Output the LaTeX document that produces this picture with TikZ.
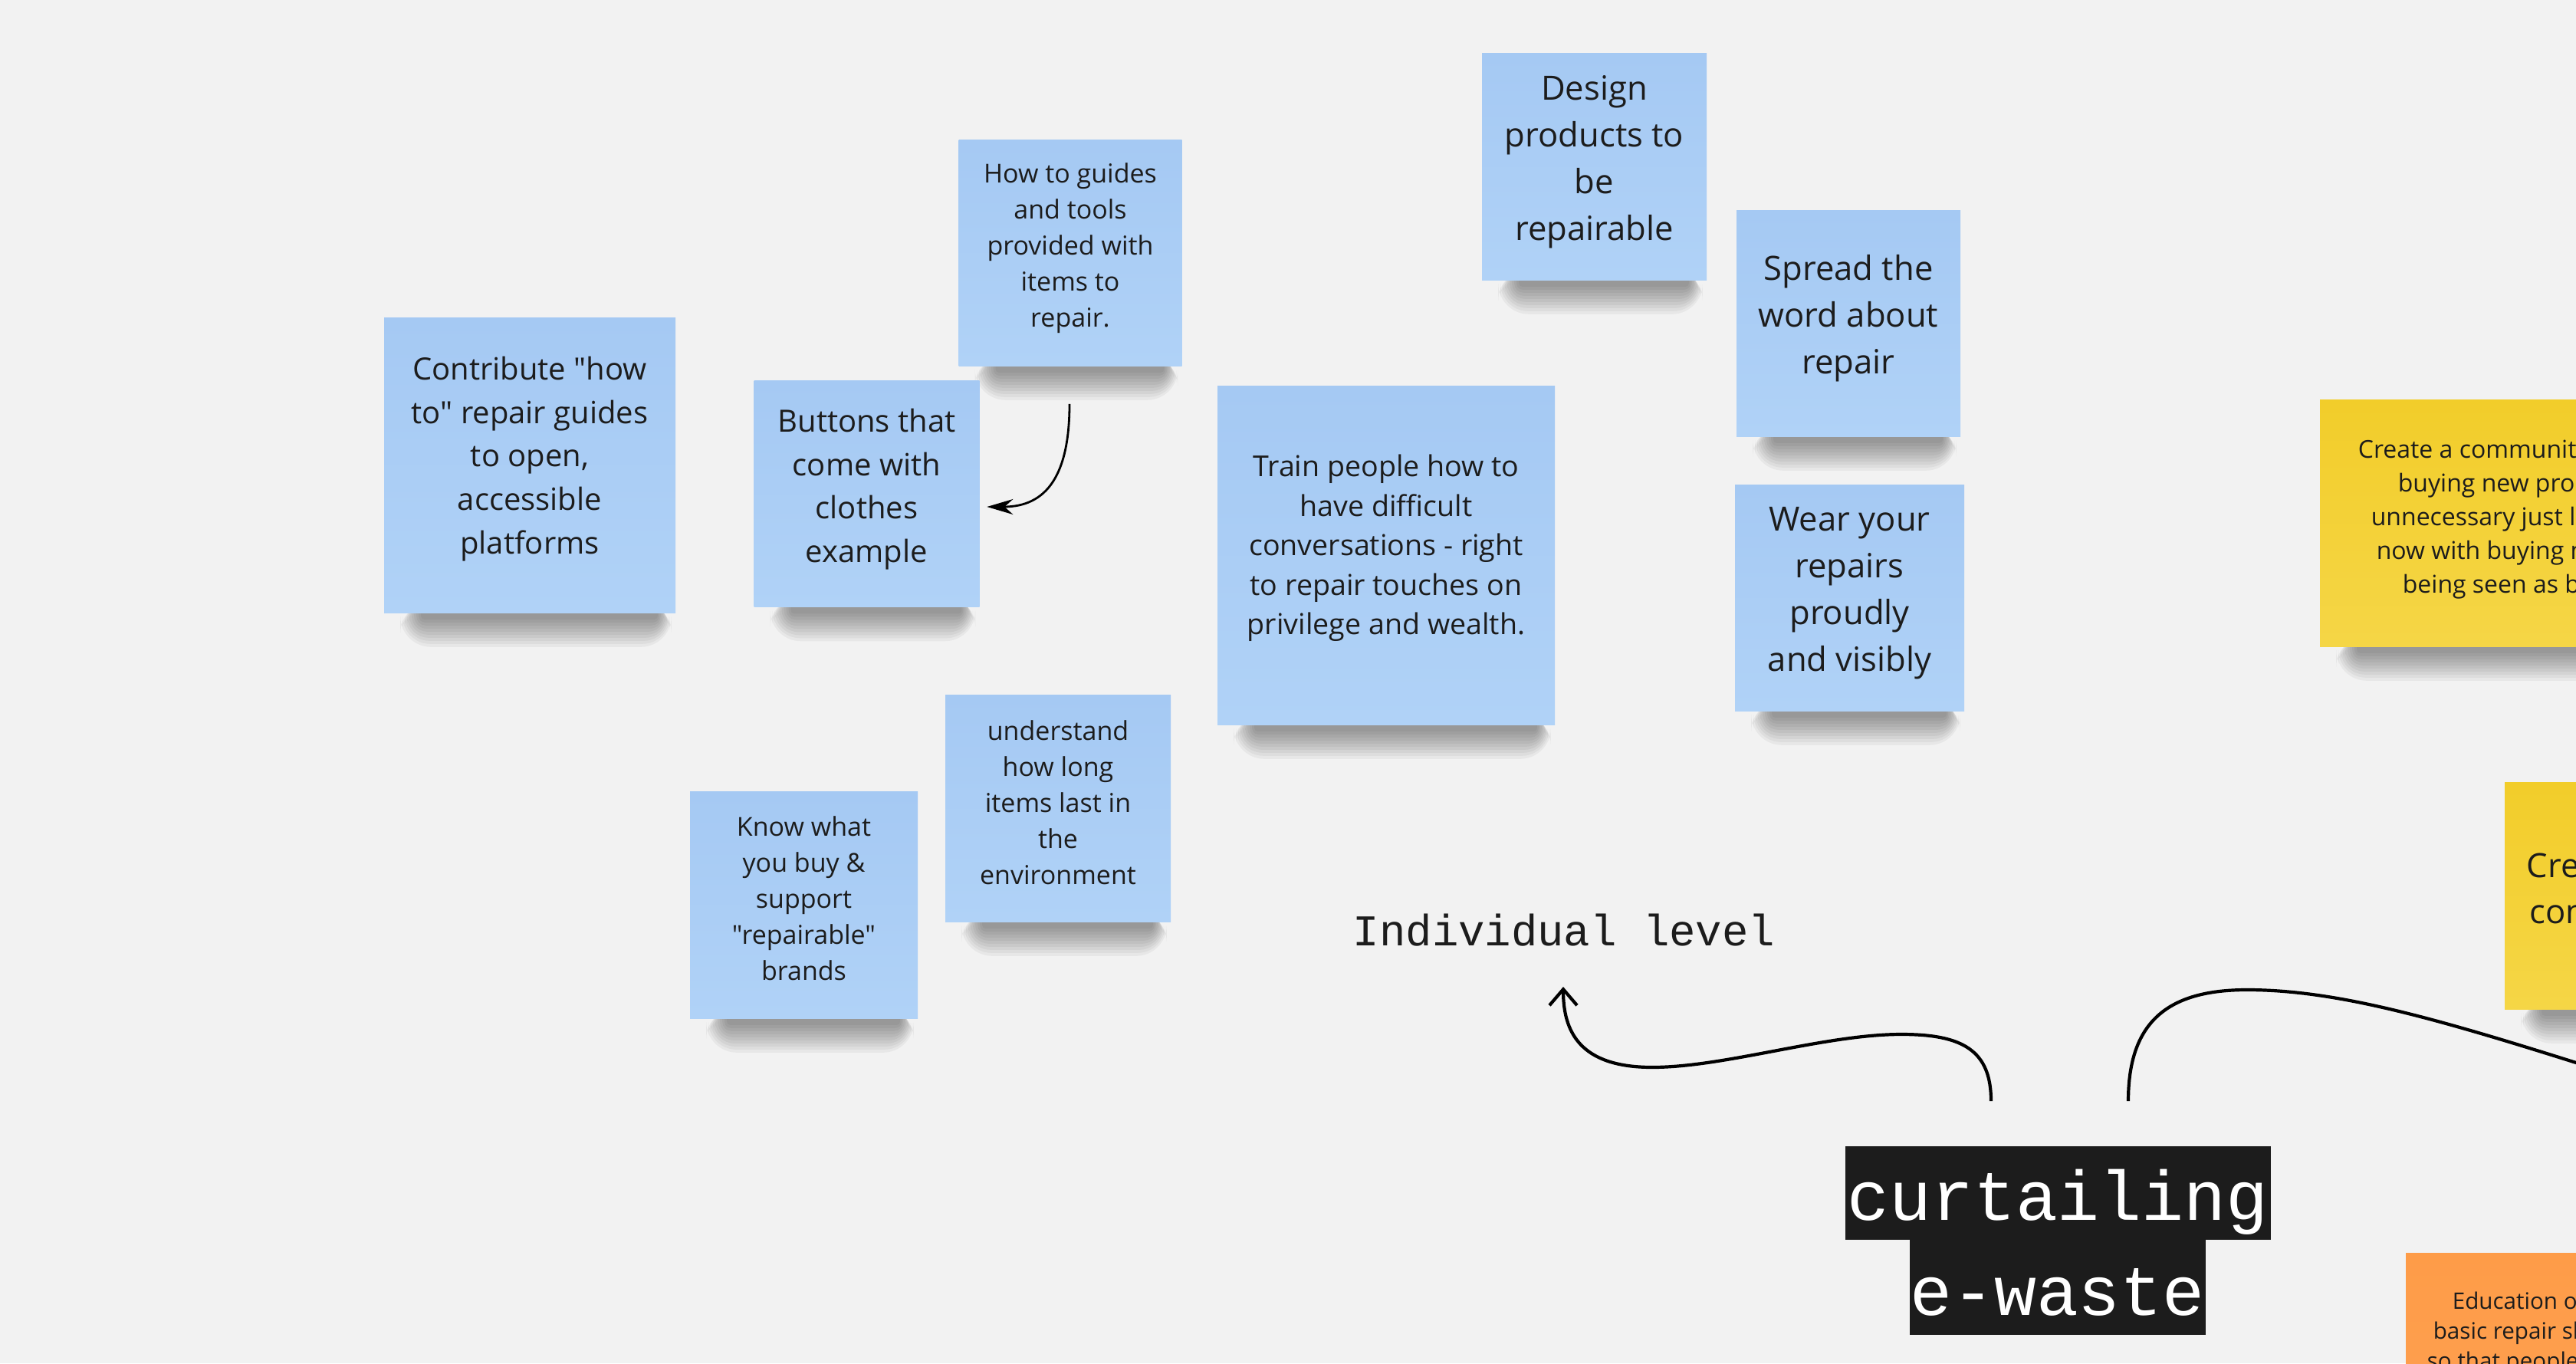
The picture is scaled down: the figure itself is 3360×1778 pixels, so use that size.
\documentclass[tikz,border=0pt]{standalone}
\usepackage{fontspec}
\setmainfont{Open Sans}[Ligatures=TeXOff]
\newfontfamily\monofont{Liberation Mono}
\usetikzlibrary{arrows.meta,calc,backgrounds}
\definecolor{bgc}{HTML}{F2F2F2}
\definecolor{bluetop}{HTML}{A5C9F3}
\definecolor{bluebot}{HTML}{B0D2F7}
\definecolor{yeltop}{HTML}{F2CD2A}
\definecolor{yelbot}{HTML}{F5D646}
\definecolor{orngtop}{HTML}{FE9C48}
\definecolor{orngbot}{HTML}{FEA152}
\definecolor{ink}{HTML}{1C1C1C}
\pgfdeclarelayer{shadowlayer}
\pgfsetlayers{background,shadowlayer,main}
\tikzset{
  bluesticky/.style={inner sep=0pt, draw=none, top color=bluetop, bottom color=bluebot},
  yelsticky/.style={inner sep=0pt, draw=none, top color=yeltop, bottom color=yelbot},
  orgsticky/.style={inner sep=0pt, draw=none, top color=orngtop, bottom color=orngbot},
  txtA/.style={inner sep=0pt, align=center, text=ink, font=\fontsize{10pt}{14.15pt}\selectfont},
  txtB/.style={inner sep=0pt, align=center, text=ink, font=\fontsize{8.5pt}{11.75pt}\selectfont},
  txtC/.style={inner sep=0pt, align=center, text=ink, font=\fontsize{10.9pt}{15.25pt}\selectfont},
  txtD/.style={inner sep=0pt, align=center, text=ink, font=\fontsize{9.4pt}{12.85pt}\selectfont},
  edgetxt/.style={inner sep=0pt, anchor=base west, align=left, text=ink},
  titlebox/.style={inner sep=0pt, fill=ink, text=white, font=\monofont\fontsize{22.9pt}{30pt}\selectfont},
  conn/.style={draw=black, line width=1.05pt},
  smallarrow/.style={draw=black, line width=0.7pt, -{Stealth[length=8.5pt,width=5pt]}}
}
\newcommand\stickyshadow[1]{%
  \begin{pgfonlayer}{shadowlayer}
    \foreach \i in {1,...,10}{
      \fill[black, opacity=0.045, rounded corners=\i pt]
        ($(#1.south west)+({52-3*\i},-14)$) rectangle ($(#1.south east)+({-26+2*\i},{4+4*\i})$);
    }
  \end{pgfonlayer}}
\begin{document}
\begin{tikzpicture}[x=0.25pt,y=-0.25pt]
\useasboundingbox (0,0) rectangle (3360,1778);
\begin{pgfonlayer}{background}
  \fill[bgc] (0,0) rectangle (3360,1778);
\end{pgfonlayer}

% blue stickies
\node[bluesticky, minimum width=95pt, minimum height=96.25pt] (contrib) at (691,606.5) {};
\node[txtA] (contribT) at ([yshift=2pt]contrib.center) {Contribute "how\\to" repair guides\\to open,\\accessible\\platforms};

\node[bluesticky, minimum width=72.75pt, minimum height=73.75pt] (howto) at (1396,329.5) {};
\node[txtB] (howtoT) at ([yshift=1.5pt]howto.center) {How to guides\\and tools\\provided with\\items to\\repair.};

\node[bluesticky, minimum width=73.5pt, minimum height=73.75pt] (buttons) at (1130.5,644) {};
\node[txtA] (buttonsT) at ([yshift=1.5pt]buttons.center) {Buttons that\\come with\\clothes\\example};

\node[bluesticky, minimum width=73.25pt, minimum height=74pt] (design) at (2079.5,217) {};
\node[txtC] (designT) at ([yshift=1.5pt]design.center) {Design\\products to\\be\\repairable};

\node[bluesticky, minimum width=73pt, minimum height=73.75pt] (spread) at (2411,421.5) {};
\node[txtC] (spreadT) at ([yshift=1.5pt]spread.center) {Spread the\\word about\\repair};

\node[bluesticky, minimum width=74.75pt, minimum height=73.75pt] (wear) at (2412.5,779.5) {};
\node[txtC] (wearT) at ([yshift=1.5pt]wear.center) {Wear your\\repairs\\proudly\\and visibly};

\node[bluesticky, minimum width=110pt, minimum height=110.5pt] (train) at (1808,724) {};
\node[txtD] (trainT) at ([yshift=2.25pt]train.center) {Train people how to\\have difficult\\conversations - right\\to repair touches on\\privilege and wealth.};

\node[bluesticky, minimum width=73.5pt, minimum height=74pt] (underst) at (1380,1054) {};
\node[txtB] (understT) at ([yshift=1.75pt]underst.center) {understand\\how long\\items last in\\the\\environment};

\node[bluesticky, minimum width=74.25pt, minimum height=74pt] (knowwhat) at (1048.5,1180) {};
\node[txtB] (knowwhatT) at ([yshift=2pt]knowwhat.center) {Know what\\you buy \&\\support\\"repairable"\\brands};

% right-hand stickies (cut by the edge)
\node[yelsticky, minimum width=110pt, minimum height=80.5pt] (yellowA) at (3246,682) {};
\node[edgetxt, font=\fontsize{8pt}{11pt}\selectfont] (yellowAT) at (3075,773)
  {Create a community\\\hspace*{13pt}buying new products\\\hspace*{4.25pt}unnecessary just like\\\hspace*{6pt}now with buying new\\\hspace*{14.5pt}being seen as bad};

\node[yelsticky, minimum width=73.25pt, minimum height=74pt] (yellowB) at (3413.5,1168) {};
\node[edgetxt, font=\fontsize{10.9pt}{15pt}\selectfont] (yellowBT) at (3295,1204)
  {Create\\\hspace*{1pt}community};

\node[orgsticky, minimum width=110pt, minimum height=74pt] (orange) at (3358,1782) {};
\node[edgetxt, font=\fontsize{7.4pt}{9.75pt}\selectfont] (orangeT) at (3165,1785)
  {\hspace*{8.25pt}Education on\\\hspace*{2pt}basic repair skills\\so that people};

\stickyshadow{contrib}
\stickyshadow{howto}
\stickyshadow{buttons}
\stickyshadow{design}
\stickyshadow{spread}
\stickyshadow{wear}
\stickyshadow{train}
\stickyshadow{underst}
\stickyshadow{knowwhat}
\stickyshadow{yellowA}
\stickyshadow{yellowB}

% arrow between stickies
\coordinate (a0) at ($(howto.south)+(-1,49)$);
\coordinate (a1) at ($(buttons.east)+(9,17)$);
\draw[smallarrow] (a0) .. controls (1395,620) and (1365,661) .. (a1);

% label and title
\node[inner sep=0pt, anchor=base west, text=ink, font=\monofont\fontsize{14.33pt}{17pt}\selectfont] (indiv) at (1764,1233) {Individual level};

\node[titlebox, minimum width=138.75pt, text height=24.25pt, text depth=6.25pt, anchor=north] (title1) at (2684,1494) {curtailing};
\node[titlebox, minimum width=96.5pt, text height=24.75pt, text depth=6.25pt, anchor=north] (title2) at (2683.5,1616) {e-waste};

\coordinate (t1) at ($(title1.north)+(-87,-58)$);
\coordinate (t2) at ($(title1.north)+(92,-58)$);
\coordinate (indivtip) at ($(indiv.base west)+(275,54)$);
\coordinate (rend) at (3420,1405);

\draw[conn, -{Straight Barb[length=5.25pt,width=9pt]}] (t1) .. controls (2597,1370) and (2560,1349) .. (2480,1349)
  .. controls (2380,1349) and (2250,1392) .. (2155,1392)
  .. controls (2060,1392) and (2039,1345) .. (indivtip);
\draw[conn] (t2) .. controls (2776,1330) and (2830,1290) .. (2935,1291)
  .. controls (3060,1292) and (3200,1335) .. (rend);
\end{tikzpicture}
\end{document}
